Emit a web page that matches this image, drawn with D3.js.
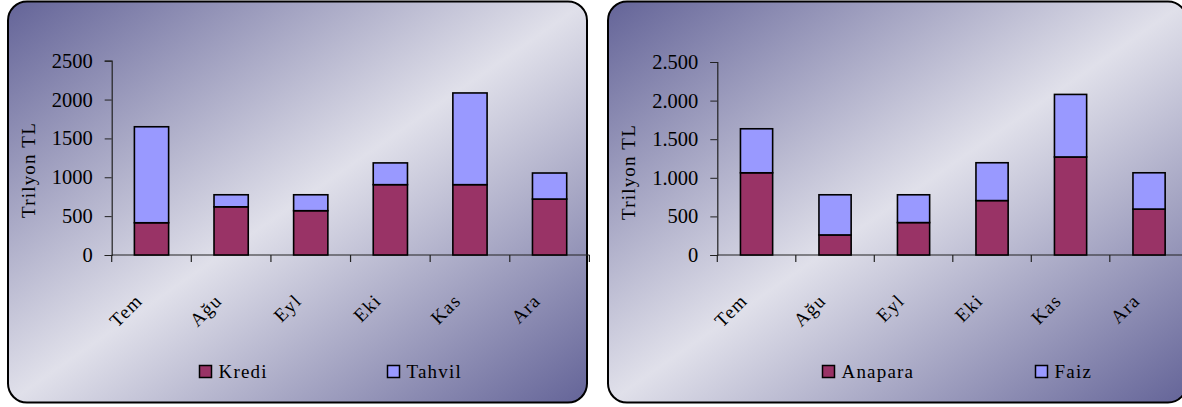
<!DOCTYPE html>
<html><head><meta charset="utf-8">
<script src="https://cdn.jsdelivr.net/npm/d3@7"></script>
<style>
html,body{margin:0;padding:0;background:#fff;}
svg{display:block;}
text{font-family:"Liberation Serif","Times New Roman",serif;fill:#000;}
</style></head>
<body>
<svg id="chart" width="1182" height="407"></svg>
<script>
const months = ["Tem", "Ağu", "Eyl", "Eki", "Kas", "Ara"];
const krediValues = [415, 620, 570, 905, 905, 720];
const tahvilValues = [1235, 155, 205, 280, 1180, 335];
const anaparaValues = [1065, 260, 420, 705, 1270, 595];
const faizValues = [570, 520, 360, 490, 810, 470];
const yTicks = [0, 500, 1000, 1500, 2000, 2500];
const leftSeries = ["Kredi", "Tahvil"];
const rightSeries = ["Anapara", "Faiz"];
const yTitle = "Trilyon TL";

const colors = ["#993366", "#9999FF"];
const svg = d3.select("#chart");

const defs = svg.append("defs");
const grad = defs.append("linearGradient").attr("id", "bg")
  .attr("x1", 0).attr("y1", 0).attr("x2", 1).attr("y2", 1);
grad.append("stop").attr("offset", 0).attr("stop-color", "#646498");
grad.append("stop").attr("offset", 0.5).attr("stop-color", "#e0e0ea");
grad.append("stop").attr("offset", 1).attr("stop-color", "#646498");

function drawPanel(cfg) {
  const g = svg.append("g");
  g.append("rect")
    .attr("x", cfg.px).attr("y", 1.5).attr("width", 579).attr("height", 401)
    .attr("rx", 19).attr("ry", 19)
    .attr("fill", "url(#bg)").attr("stroke", "#000").attr("stroke-width", 2);

  const x = d3.scaleBand().domain(months).range([cfg.x0, cfg.x1]);
  const y = d3.scaleLinear().domain([0, 2500]).range([255, cfg.yTop]);

  // y axis
  const yAxis = d3.axisLeft(y).tickValues(yTicks).tickSize(7).tickPadding(12)
    .tickFormat(cfg.fmt);
  const ya = g.append("g").attr("transform", `translate(${cfg.x0},0)`).call(yAxis);
  ya.attr("font-family", null).attr("font-size", null);
  ya.select(".domain").attr("stroke", "#222").attr("stroke-width", 1.2);
  ya.selectAll(".tick line").attr("stroke", "#222");
  ya.selectAll(".tick text").attr("fill", "#000").style("font-size", "20.5px")
    .style("font-family", '"Liberation Serif", serif');

  // x axis line and ticks at band edges
  const edges = months.map(m => x(m)).concat([x(months[months.length - 1]) + x.bandwidth()]);
  g.append("line").attr("x1", cfg.x0).attr("x2", cfg.x1).attr("y1", 255).attr("y2", 255)
    .attr("stroke", "#222").attr("stroke-width", 1.2);
  g.selectAll(".xt").data(edges).join("line")
    .attr("x1", d => d).attr("x2", d => d).attr("y1", 255).attr("y2", 262)
    .attr("stroke", "#222").attr("stroke-width", 1.2);

  // stacked bars
  const rows = months.map((m, i) => ({ month: m, a: cfg.a[i], b: cfg.b[i] }));
  const stack = d3.stack().keys(["a", "b"])(rows);
  const bw = x.bandwidth() * cfg.barFrac;
  stack.forEach((layer, li) => {
    g.selectAll(null).data(layer).join("rect")
      .attr("x", d => x(d.data.month) + (x.bandwidth() - bw) / 2)
      .attr("width", bw)
      .attr("y", d => y(d[1]))
      .attr("height", d => y(d[0]) - y(d[1]))
      .attr("fill", colors[li]).attr("stroke", "#000").attr("stroke-width", 1.6);
  });

  // x labels
  g.selectAll(".xl").data(months).join("text")
    .attr("transform", d => `translate(${x(d) + x.bandwidth() / 2 - 8},302) rotate(-45)`)
    .attr("text-anchor", "end")
    .style("font-size", "19px").style("letter-spacing", "1.2px")
    .text(d => d);

  // y title
  g.append("text")
    .attr("transform", `translate(${cfg.tx},${cfg.ty}) rotate(-90)`)
    .attr("text-anchor", "middle")
    .style("font-size", "19px").style("letter-spacing", "1.2px")
    .text(yTitle);

  // legend
  cfg.series.forEach((s, i) => {
    const lx = cfg.legX[i];
    g.append("rect").attr("x", lx).attr("y", 365.5).attr("width", 12).attr("height", 12)
      .attr("fill", colors[i]).attr("stroke", "#000").attr("stroke-width", 1.5);
    g.append("text").attr("x", lx + 19).attr("y", 377.5)
      .style("font-size", "19px").style("letter-spacing", "1.2px").text(s);
  });
}

drawPanel({
  px: 8, x0: 111.7, x1: 589.4, yTop: 60.7, barFrac: 0.43,
  a: krediValues, b: tahvilValues, series: leftSeries,
  fmt: d3.format("d"), tx: 35, ty: 170, legX: [199.5, 387.5]
});
drawPanel({
  px: 608, x0: 717.3, x1: 1188.3, yTop: 62, barFrac: 0.41,
  a: anaparaValues, b: faizValues, series: rightSeries,
  fmt: v => d3.format(",")(v).replace(/,/g, "."), tx: 635, ty: 172, legX: [822.5, 1035.5]
});
</script>
</body></html>
